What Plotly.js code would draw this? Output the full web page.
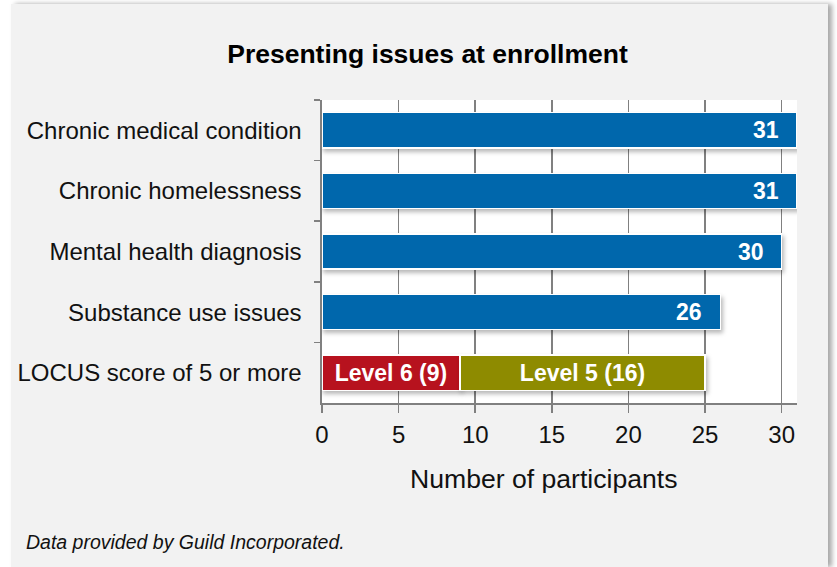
<!DOCTYPE html>
<html>
<head>
<meta charset="utf-8">
<script src="https://cdn.plot.ly/plotly-3.0.1.min.js"></script>
<style>
  html, body { margin: 0; padding: 0; background: #ffffff; width: 837px; height: 567px; overflow: hidden; }
  #panel { position: absolute; left: 11px; top: 4px; width: 817px; height: 563px; background: #f2f2f2;
           box-shadow: 4px 0 5px rgba(0,0,0,0.35); }
  #chart { width: 817px; height: 563px; }
  .barlayer .point path { filter: drop-shadow(2px 3px 2px rgba(0,0,0,0.28)); }
</style>
</head>
<body>
<div id="panel"><div id="chart"></div></div>
<script>
const categories = [
  "Chronic medical condition",
  "Chronic homelessness",
  "Mental health diagnosis",
  "Substance use issues",
  "LOCUS score of 5 or more"
];
const totalValues = [31, 31, 30, 26, null];
const level6Values = [null, null, null, null, 9];
const level5Values = [null, null, null, null, 16];
const level6Labels = ["", "", "", "", "Level 6 (9)"];
const level5Labels = ["", "", "", "", "Level 5 (16)"];
const xTicks = [0, 5, 10, 15, 20, 25, 30];

const FONT = "'Liberation Sans', Arial, Helvetica, sans-serif";
const GRAY = "#808080";
const barLine = { color: "#ffffff", width: 1.5 };

const traces = [
  { type: "bar", orientation: "h", y: categories, x: totalValues, name: "Total",
    marker: { color: "#0067ac", line: barLine }, hoverinfo: "x+y" },
  { type: "bar", orientation: "h", y: categories, x: level6Values, name: "Level 6",
    marker: { color: "#b7121e", line: barLine },
    text: level6Labels, textposition: "inside", insidetextanchor: "middle",
    textfont: { family: FONT, size: 23, color: "#ffffff", weight: "bold" } },
  { type: "bar", orientation: "h", y: categories, x: level5Values, name: "Level 5",
    marker: { color: "#8e8b00", line: barLine },
    text: level5Labels, textposition: "inside", insidetextanchor: "middle",
    textfont: { family: FONT, size: 23, color: "#ffffff", weight: "bold" } }
];

const annotations = [];
categories.forEach((c, i) => {
  if (totalValues[i] != null) {
    annotations.push({
      x: totalValues[i], y: c, xref: "x", yref: "y",
      text: "<b>" + totalValues[i] + "</b>", showarrow: false,
      xanchor: "right", yanchor: "middle", xshift: -16,
      font: { family: FONT, size: 23, color: "#ffffff" }
    });
  }
});
annotations.push({
  text: "Number of participants", xref: "paper", yref: "paper",
  x: 0.4667, y: 0, yshift: -76, xanchor: "center", yanchor: "middle",
  showarrow: false, font: { family: FONT, size: 26.6, color: "#111111" }
});
annotations.push({
  text: "<i>Data provided by Guild Incorporated.</i>", xref: "paper", yref: "paper",
  x: -0.628, y: 0, yshift: -139, xanchor: "left", yanchor: "middle",
  showarrow: false, font: { family: FONT, size: 19.5, color: "#111111" }
});

const layout = {
  width: 817, height: 563,
  paper_bgcolor: "#f2f2f2", plot_bgcolor: "#ffffff",
  margin: { l: 311, r: 31.4, t: 96, b: 164 },
  barmode: "stack", bargap: 0.42, showlegend: false,
  title: {
    text: "<b>Presenting issues at enrollment</b>",
    xref: "container", yref: "container", x: 0.5098, y: 0.911,
    xanchor: "center", yanchor: "middle",
    font: { family: FONT, size: 26.5, color: "#000000" }
  },
  xaxis: {
    range: [0, 31], tickvals: xTicks, ticktext: xTicks.map(String),
    showgrid: true, gridcolor: GRAY, gridwidth: 1.6, zeroline: false,
    showline: true, linecolor: GRAY, linewidth: 1.6,
    ticks: "outside", ticklen: 8, tickwidth: 1.6, tickcolor: GRAY,
    tickfont: { family: FONT, size: 24, color: "#111111" },
    ticklabelstandoff: 2, fixedrange: true
  },
  yaxis: {
    type: "category", categoryarray: categories, autorange: "reversed",
    showgrid: false, zeroline: false,
    showline: true, linecolor: GRAY, linewidth: 1.6,
    ticks: "outside", tickson: "boundaries", ticklen: 6, tickwidth: 1.6, tickcolor: GRAY,
    tickfont: { family: FONT, size: 24, color: "#111111" },
    ticklabelstandoff: 14, fixedrange: true
  },
  annotations: annotations
};

Plotly.newPlot("chart", traces, layout, { displayModeBar: false, staticPlot: true });
</script>
</body>
</html>
